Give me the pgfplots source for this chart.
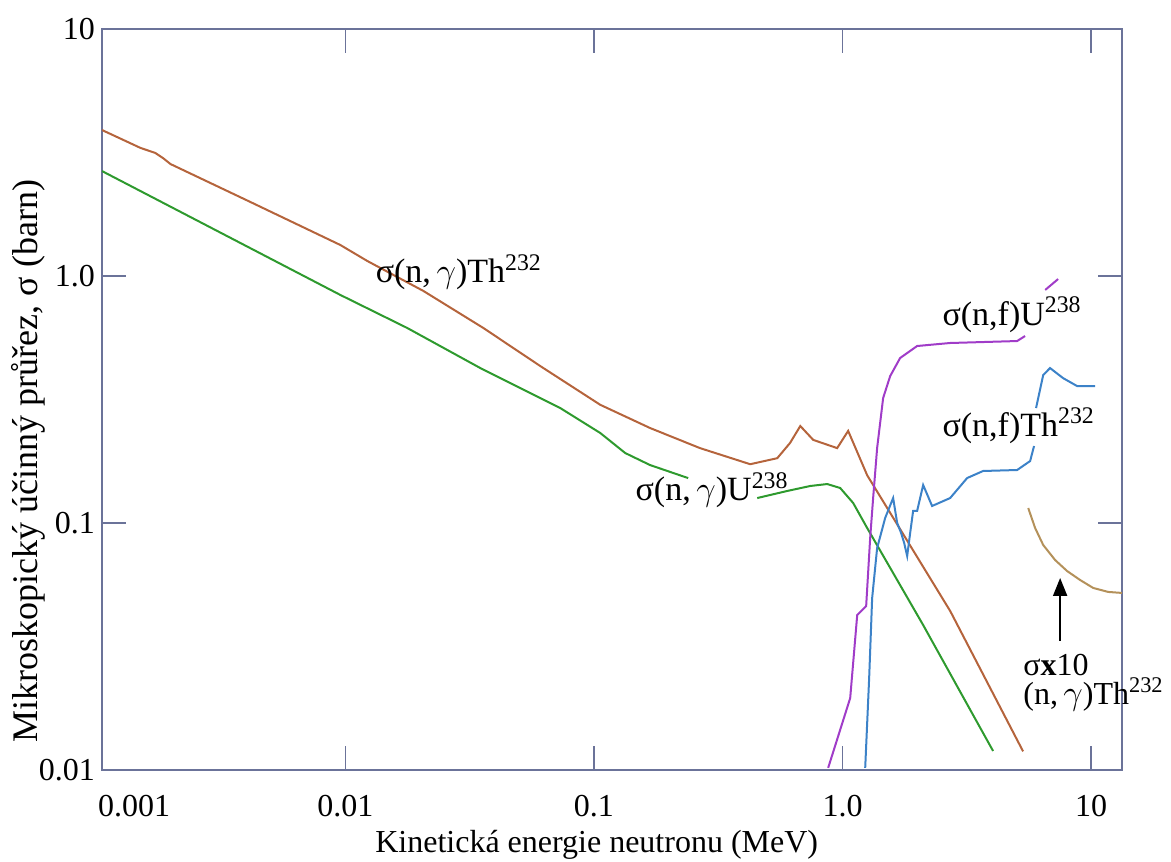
\documentclass[border=0pt]{standalone}
\usepackage{fontspec}
\setmainfont{Liberation Serif}
\usepackage{pgfplots}
\pgfplotsset{compat=1.18}
\usetikzlibrary{arrows.meta}
\definecolor{axiscol}{HTML}{6B7399}
\definecolor{thgam}{HTML}{B5643C}
\definecolor{ugam}{HTML}{2E9A2E}
\definecolor{ufis}{HTML}{A03CC8}
\definecolor{thfis}{HTML}{3C82C8}
\definecolor{thten}{HTML}{B4915A}
\tikzset{lbl/.style={anchor=base west, inner sep=0pt, font=\fontsize{17}{20}\selectfont}}
\begin{document}
\begin{tikzpicture}
\begin{axis}[
    name=ax, at={(0,0)}, anchor=south west,
    scale only axis, width=510pt, height=370.5pt,
    xmode=log, ymode=log,
    xmin=0.00105, xmax=13.3, ymin=0.01, ymax=10,
    xtick={0.01,0.1,1,10}, xticklabels={0.01,0.1,1.0,10},
    extra x ticks={0.00106}, extra x tick labels={0.001},
    extra x tick style={major tick length=0pt, xticklabel style={xshift=15.5pt}},
    ytick={0.01,0.1,1,10}, yticklabels={0.01,0.1,1.0,10},
    xminorticks=false, yminorticks=false,
    major tick length=12pt, tick align=inside,
    axis line style={axiscol, line width=0.75pt},
    every tick/.style={axiscol, line width=0.75pt},
    tick label style={font=\fontsize{16}{19}\selectfont},
    xticklabel style={yshift=-9pt},
    xlabel={Kinetická energie neutronu (MeV)},
    ylabel={Mikroskopický účinný průřez, σ (barn)},
    xlabel style={font=\fontsize{16}{19}\selectfont, at={(rel axis cs:0.485,-0.112)}, anchor=base},
    ylabel style={font=\fontsize{18}{21}\selectfont, at={(rel axis cs:-0.0725,0.417)}, anchor=center},
    clip mode=individual,
    every axis plot/.append style={line width=1pt},
]
% sigma(n,gamma) Th232
\addplot[thgam] coordinates {
    (0.00105,3.90) (0.00150,3.30) (0.00172,3.15) (0.00185,3.00) (0.00198,2.84)
    (0.00415,1.994) (0.00955,1.335) (0.01226,1.150) (0.0206,0.870) (0.0359,0.616)
    (0.0608,0.432) (0.106,0.301) (0.168,0.2425) (0.267,0.201) (0.425,0.173)
    (0.546,0.183) (0.615,0.211) (0.676,0.247) (0.762,0.217) (0.951,0.201)
    (1.053,0.236) (1.256,0.156) (2.71,0.0440) (5.32,0.0119)
};
% sigma(n,gamma) U238
\addplot[ugam] coordinates {
    (0.00105,2.66) (0.00955,0.838) (0.01774,0.616) (0.0349,0.424) (0.0732,0.292)
    (0.106,0.2314) (0.1336,0.192) (0.168,0.1717) (0.2393,0.152)
};
\addplot[ugam] coordinates {
    (0.4535,0.1262) (0.5989,0.1348) (0.741,0.1412) (0.867,0.1438) (0.978,0.1386)
    (1.103,0.1205) (1.256,0.0954) (2.11,0.0386) (4.03,0.01194)
};
% sigma(n,f) U238
\addplot[ufis] coordinates {
    (0.875,0.0102) (1.073,0.01956) (1.145,0.0424) (1.199,0.0444) (1.244,0.0461)
    (1.291,0.0869) (1.327,0.1262) (1.377,0.2012) (1.456,0.3207) (1.554,0.3936)
    (1.704,0.4656) (1.995,0.5207) (2.708,0.5355) (5.035,0.5454) (5.42,0.5715)
};
\addplot[ufis] coordinates {(6.53,0.878) (7.36,0.972)};
% sigma(n,f) Th232
\addplot[thfis] coordinates {
    (1.233,0.0102) (1.279,0.02358) (1.315,0.0497) (1.377,0.0792) (1.483,0.1047)
    (1.597,0.1262) (1.658,0.100) (1.720,0.0911) (1.769,0.0830) (1.819,0.0735)
    (1.870,0.0911) (1.922,0.1119) (1.995,0.1119) (2.109,0.1425) (2.291,0.1172)
    (2.708,0.1262) (3.17,0.1521) (3.675,0.1624) (5.035,0.1639) (5.68,0.1782)
    (5.89,0.205)
};
\addplot[thfis] coordinates {
    (6.00,0.292) (6.41,0.397) (6.83,0.424) (7.71,0.386) (8.77,0.3586) (10.37,0.3586)
};
% sigma x 10 (n,gamma) Th232
\addplot[thten] coordinates {
    (5.58,0.115) (5.95,0.0954) (6.41,0.0815) (7.16,0.0708) (8.00,0.0639)
    (9.02,0.0588) (10.18,0.0546) (11.7,0.0526) (13.3,0.0521)
};
\draw[line width=1pt, -{Triangle[length=9pt,width=7pt]}] (axis cs:7.50,0.0333) -- (axis cs:7.50,0.0599);
\node[lbl] at (axis cs:0.01321,0.937) {σ(n,\,$\gamma$)Th\textsuperscript{232}};
\node[lbl] at (axis cs:0.1466,0.1228) {σ(n,\,$\gamma$)U\textsuperscript{238}};
\node[lbl] at (axis cs:2.515,0.633) {σ(n,f)U\textsuperscript{238}};
\node[lbl] at (axis cs:2.515,0.225) {σ(n,f)Th\textsuperscript{232}};
\node[anchor=north west, inner sep=0pt, align=left, font=\fontsize{16}{12.5}\selectfont]
    at (axis cs:5.32,0.0296) {σ\textbf{x}10\\(n,\,$\gamma$)Th\textsuperscript{232}};
\end{axis}
\pgfresetboundingbox
\path (ax.south west) ++(-51pt,-45.5pt) rectangle ++(585.5pt,430.5pt);
\end{tikzpicture}
\end{document}
